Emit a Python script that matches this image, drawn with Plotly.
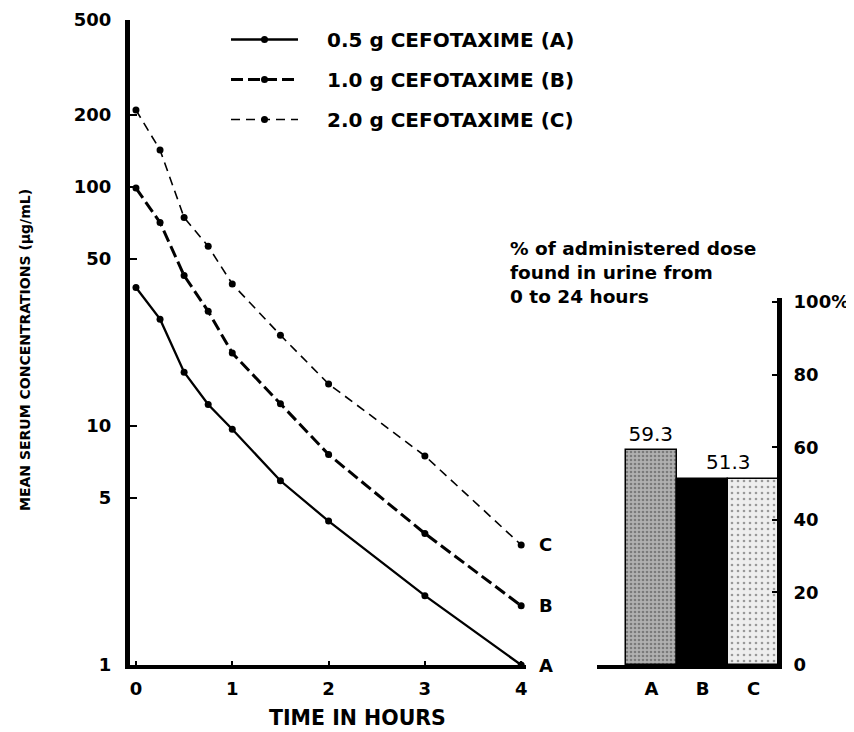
import math
import plotly.graph_objects as go

# ---------------- data ----------------
time_h = [0, 0.25, 0.5, 0.75, 1, 1.5, 2, 3, 4]
conc_a = [38, 28, 16.8, 12.3, 9.7, 5.9, 4.0, 1.95, 1.0]
conc_b = [99, 71, 42.6, 30.2, 20.2, 12.4, 7.6, 3.55, 1.77]
conc_c = [210, 143, 74.5, 56.5, 39.3, 24.0, 15.0, 7.5, 3.18]
series_names = ["0.5 g CEFOTAXIME (A)", "1.0 g CEFOTAXIME (B)", "2.0 g CEFOTAXIME (C)"]
end_labels = ["A", "B", "C"]

bar_cats = ["A", "B", "C"]
urine_pct = [59.3, 51.3, 51.3]
bar_value_labels = ["59.3", "51.3"]

conc_ticks = [1, 5, 10, 50, 100, 200, 500]
time_ticks = [0, 1, 2, 3, 4]
pct_ticks = [0, 20, 40, 60, 80, 100]
pct_ticktext = ["0", "20", "40", "60", "80", "100%"]

# ---------------- style ----------------
W, H = 854, 732
OFF = 8  # page body margin: the figure is drawn 8px in from the window corner
FONT = "DejaVu Sans, sans-serif"
LEGEND_PAD = "\u2003\u2009"  # visual gap between legend key and label


def fx(p):
    return (p - OFF) / W


def fy(p):
    return 1 - (p - OFF) / H


def f(size, weight="bold"):
    return dict(family=FONT, size=size, color="black", weight=weight)


line_styles = [
    dict(width=2.3, dash="solid"),
    dict(width=3.0, dash="12px,5px"),
    dict(width=1.6, dash="9px,6px"),
]

fig = go.Figure()

all_series = [conc_a, conc_b, conc_c]
for name, ys, lab, st in zip(series_names, all_series, end_labels, line_styles):
    fig.add_trace(go.Scatter(
        x=time_h, y=ys, mode="lines+markers", name=LEGEND_PAD + name,
        line=dict(color="black", **st),
        marker=dict(size=7, color="black"),
        legendgroup=lab, cliponaxis=False, xaxis="x", yaxis="y",
    ))
    fig.add_annotation(
        text=lab, xref="x", yref="y", x=time_h[-1], y=math.log10(ys[-1]),
        xanchor="left", yanchor="middle", xshift=16, showarrow=False, font=f(18),
    )

fig.add_trace(go.Bar(
    x=bar_cats, y=urine_pct, width=1, xaxis="x2", yaxis="y2", showlegend=False,
    marker=dict(
        color=["#b0b0b0", "black", "#eeeeee"],
        line=dict(color="black", width=1.5),
        pattern=dict(shape=[".", "", "."],
                     fgcolor=["#383838", "black", "#8a8a8a"],
                     bgcolor=["#b4b4b4", "black", "#f0f0f0"],
                     size=[4, 4, 6], solidity=[0.35, 0.1, 0.15]),
    ),
    text=[bar_value_labels[0], "", ""], textposition="outside",
    textfont=f(20, "normal"), cliponaxis=False,
))

# left panel vertical geometry (window pixels)
y_bot_px, y_top_px = 665, 20

common_axis = dict(showgrid=False, zeroline=False, automargin=False,
                   linecolor="black", tickcolor="black", ticklabeloverflow="allow")
fig.update_layout(
    width=W, height=H, autosize=False,
    margin=dict(l=0, r=0, t=0, b=0, autoexpand=False),
    paper_bgcolor="white", plot_bgcolor="rgba(0,0,0,0)",
    font=f(18),
    bargap=0,
    xaxis=dict(
        domain=[fx(130), fx(526)], range=[-0.062, 4.05], anchor="y",
        showline=True, linewidth=4,
        ticks="inside", ticklen=4, tickwidth=1.5,
        tickvals=time_ticks, tickfont=f(18), ticklabelstandoff=4,
        **common_axis,
    ),
    yaxis=dict(
        type="log", domain=[fy(y_bot_px), fy(y_top_px)],
        range=[0, math.log10(conc_ticks[-1])], anchor="x",
        showline=True, linewidth=5,
        ticks="inside", ticklen=7, tickwidth=1.5,
        tickvals=conc_ticks, ticktext=[str(v) for v in conc_ticks], tickfont=f(18),
        ticklabelstandoff=10,
        **common_axis,
    ),
    xaxis2=dict(
        domain=[fx(597), fx(777)], range=[-1.07, 2.46], anchor="y2",
        showline=True, linewidth=4,
        ticks="", tickfont=f(18), ticklabelstandoff=4,
        categoryorder="array", categoryarray=bar_cats,
        **common_axis,
    ),
    yaxis2=dict(
        domain=[fy(665), fy(298)], range=[0, 100 * (665 - 298) / (665 - 302)],
        anchor="x2", side="right",
        showline=True, linewidth=5,
        ticks="inside", ticklen=5, tickwidth=1.5,
        tickvals=pct_ticks, ticktext=pct_ticktext, tickfont=f(18),
        ticklabelstandoff=8,
        **common_axis,
    ),
    legend=dict(
        x=fx(226), y=fy(20), xanchor="left", yanchor="top",
        font=f(20), itemwidth=67, tracegroupgap=11,
        bgcolor="rgba(0,0,0,0)", traceorder="grouped",
    ),
    showlegend=True,
)

fig.add_annotation(
    text="MEAN SERUM CONCENTRATIONS (μg/mL)", xref="paper", yref="paper",
    x=fx(25), y=fy(350), xanchor="center", yanchor="middle",
    textangle=-90, showarrow=False, font=f(14),
)
fig.add_annotation(
    text="TIME IN HOURS", xref="paper", yref="paper",
    x=fx(357), y=fy(718), xanchor="center", yanchor="middle",
    showarrow=False, font=f(20.5),
)
fig.add_annotation(
    text="% of administered dose<br>found in urine from<br>0 to 24 hours",
    xref="paper", yref="paper", x=fx(508), y=fy(236),
    xanchor="left", yanchor="top", align="left", showarrow=False, font=f(18.5),
)
fig.add_annotation(
    text=bar_value_labels[1], xref="x2", yref="y2",
    x=1.5, y=urine_pct[1], xanchor="center", yanchor="bottom", yshift=3,
    showarrow=False, font=f(20, "normal"),
)

fig.write_html("out.html")
